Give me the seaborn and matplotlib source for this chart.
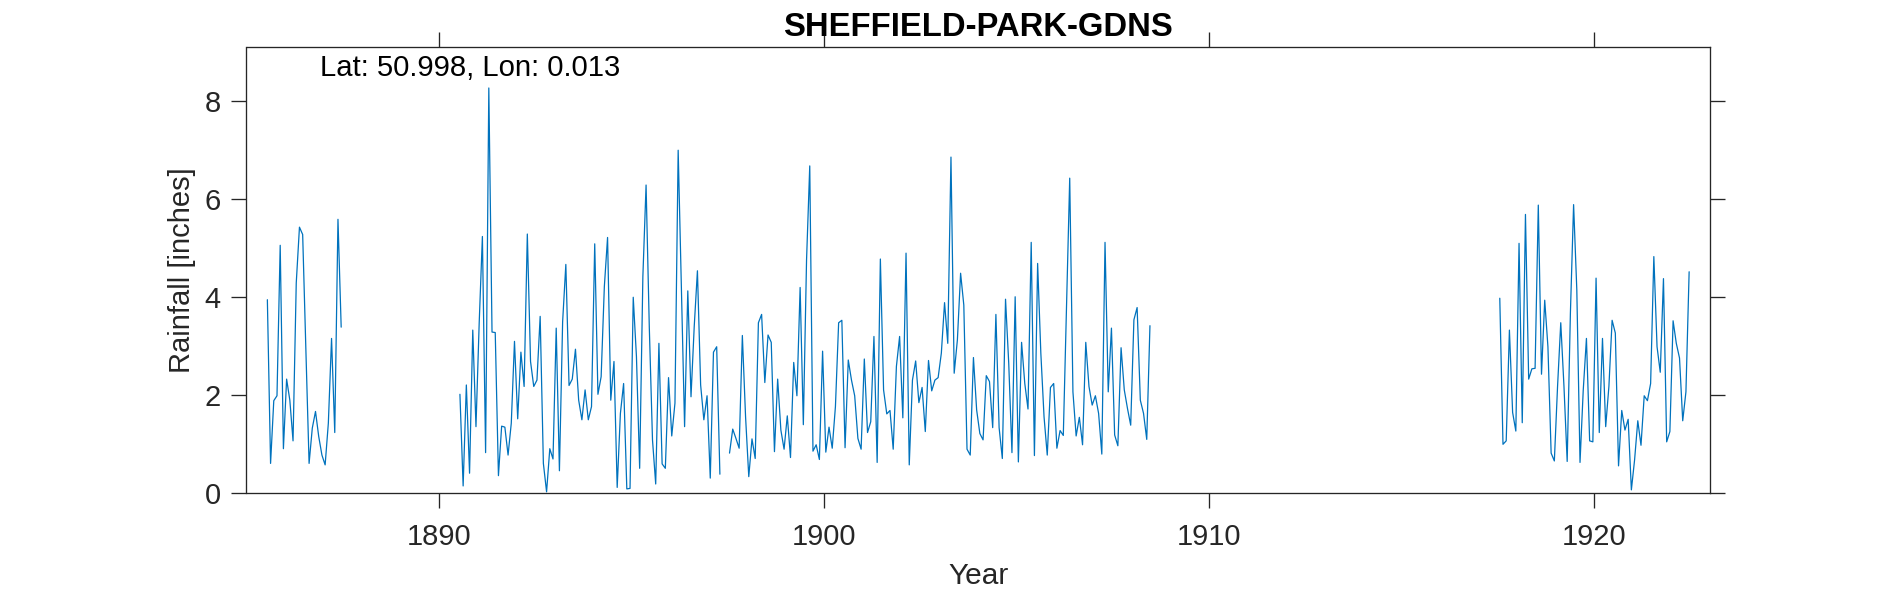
import numpy as np
import pandas as pd
import matplotlib
matplotlib.use("Agg")
import matplotlib.pyplot as plt
import seaborn as sns

STATION = "SHEFFIELD-PARK-GDNS"
LOCATION = "Lat: 50.998, Lon: 0.013"
LINE_COLOUR = "#0072BD"
INK = "#262626"

# monthly rainfall in inches, each run of months starts in July of the given year
START_YEARS = [1885, 1890, 1897, 1917]

RAIN_1885 = [3.95, 0.61, 1.89, 1.99, 5.06, 0.91, 2.33, 1.90, 1.07, 4.29, 5.43, 5.28,
             2.93, 0.61, 1.33, 1.67, 1.16, 0.78, 0.58, 1.43, 3.16, 1.24, 5.59, 3.39]

RAIN_1890 = [2.02, 0.15, 2.21, 0.41, 3.33, 1.36, 3.47, 5.24, 0.83, 8.27, 3.29, 3.28,
             0.36, 1.37, 1.35, 0.78, 1.43, 3.10, 1.52, 2.88, 2.18, 5.29, 2.69, 2.18,
             2.31, 3.61, 0.61, 0.03, 0.91, 0.70, 3.37, 0.46, 3.50, 4.67, 2.20, 2.33,
             2.94, 1.90, 1.50, 2.11, 1.50, 1.77, 5.09, 2.02, 2.38, 4.22, 5.22, 1.90,
             2.69, 0.12, 1.63, 2.24, 0.09, 0.10, 4.00, 2.79, 0.51, 4.42, 6.29, 3.40,
             1.09, 0.19, 3.06, 0.60, 0.51, 2.36, 1.17, 1.84, 7.00, 4.20, 1.36, 4.13,
             1.97, 3.40, 4.54, 2.21, 1.50, 1.99, 0.31, 2.88, 2.99, 0.39]

RAIN_1897 = [0.82, 1.31, 1.12, 0.92, 3.22, 1.56, 0.34, 1.11, 0.71, 3.48, 3.65, 2.26,
             3.23, 3.08, 0.85, 2.33, 1.29, 0.90, 1.58, 0.73, 2.67, 1.99, 4.20, 1.40,
             4.76, 6.68, 0.86, 0.99, 0.69, 2.90, 0.84, 1.35, 0.92, 1.77, 3.48, 3.53,
             0.93, 2.72, 2.31, 1.99, 1.12, 0.90, 2.74, 1.24, 1.46, 3.20, 0.63, 4.78,
             2.11, 1.62, 1.69, 0.90, 2.59, 3.20, 1.54, 4.90, 0.58, 2.31, 2.70, 1.85,
             2.16, 1.26, 2.71, 2.09, 2.31, 2.36, 2.86, 3.89, 3.06, 6.86, 2.45, 3.13,
             4.49, 3.84, 0.90, 0.78, 2.77, 1.70, 1.22, 1.09, 2.40, 2.28, 1.34, 3.65,
             1.34, 0.71, 3.96, 2.65, 0.83, 4.01, 0.64, 3.08, 2.24, 1.72, 5.12, 0.77,
             4.69, 2.86, 1.56, 0.78, 2.16, 2.24, 0.92, 1.28, 1.18, 3.81, 6.43, 2.07,
             1.17, 1.55, 0.99, 3.08, 2.18, 1.80, 1.99, 1.63, 0.80, 5.12, 2.07, 3.37,
             1.19, 0.97, 2.97, 2.11, 1.73, 1.39, 3.54, 3.79, 1.90, 1.63, 1.10, 3.42]

RAIN_1917 = [3.98, 1.00, 1.07, 3.33, 1.65, 1.27, 5.10, 1.44, 5.69, 2.33, 2.54, 2.55,
             5.88, 2.43, 3.94, 2.99, 0.82, 0.66, 2.18, 3.48, 2.18, 0.65, 3.67, 5.89,
             4.15, 0.63, 2.10, 3.16, 1.07, 1.05, 4.39, 1.24, 3.16, 1.36, 2.18, 3.53,
             3.27, 0.56, 1.69, 1.29, 1.51, 0.07, 0.68, 1.48, 0.98, 1.99, 1.89, 2.24,
             4.83, 2.99, 2.47, 4.38, 1.05, 1.26, 3.52, 3.06, 2.76, 1.48, 2.07, 4.52]

X_TICKS = [1890, 1900, 1910, 1920]
Y_TICKS = [0, 2, 4, 6, 8]

# one row per month, mid-month dates, segment id keeps the gaps open
frames = []
for start, rain in zip(START_YEARS, [RAIN_1885, RAIN_1890, RAIN_1897, RAIN_1917]):
    years = start + (6.5 + np.arange(len(rain))) / 12
    frames.append(pd.DataFrame({"year": years, "rain": rain, "segment": start}))
df = pd.concat(frames, ignore_index=True)

sns.set_style("ticks")
plt.rcParams["font.family"] = ["Liberation Sans", "DejaVu Sans"]

fig = plt.figure(figsize=(18.9, 5.91), dpi=100)
ax = fig.add_axes([246.5 / 1890, 1 - 493.3 / 591, (1710 - 246.5) / 1890, (493.3 - 47.3) / 591])

sns.lineplot(data=df, x="year", y="rain", units="segment", estimator=None,
             color=LINE_COLOUR, linewidth=0.9, ax=ax)

ax.set_xlim(1885.0, 1923.0)
ax.set_ylim(0, 9.1)
ax.set_xticks(X_TICKS)
ax.set_yticks(Y_TICKS)
ax.tick_params(direction="out", length=10.6, width=0.95, color=INK, labelcolor=INK,
               labelsize=21, top=True, right=True)
ax.tick_params(axis="x", pad=10.5)
ax.tick_params(axis="y", pad=8)
for side in ax.spines.values():
    side.set_linewidth(0.95)
    side.set_color(INK)

ax.set_xlabel("Year", fontsize=21.5, color=INK, labelpad=8)
ax.set_ylabel("Rainfall [inches]", fontsize=21, color=INK, labelpad=6)
ax.set_title(STATION, fontsize=23.6, fontweight="bold", color="black", pad=8)
ax.text(1886.9, 8.68, LOCATION, fontsize=21.1, color="black", ha="left", va="center")

fig.savefig("out.png", dpi=100)
